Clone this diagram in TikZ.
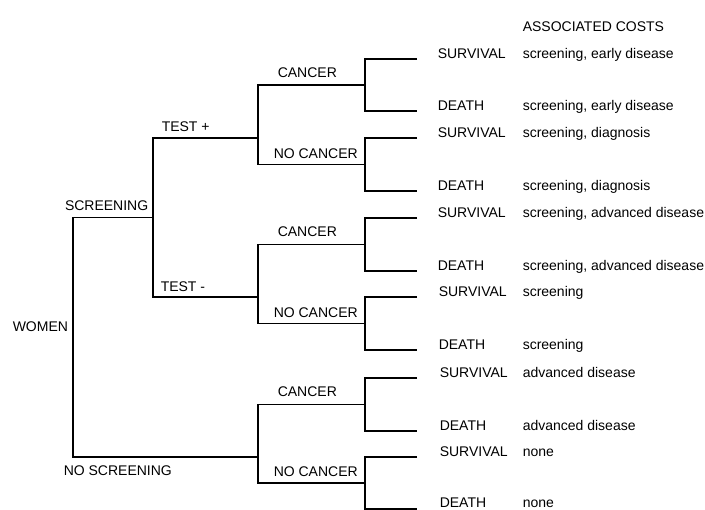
\documentclass[tikz,border=0pt]{standalone}
\usepackage{fontspec}
\setmainfont{Liberation Sans}
\begin{document}
\begin{tikzpicture}[x=1pt,y=-1pt,line width=1.5pt,font=\fontsize{14}{16}\selectfont,
		lbl/.style={anchor=base west,inner sep=0pt}]
		\useasboundingbox (0,0) rectangle (705,510);
		% forks
		\coordinate (w) at (73,0);
		\coordinate (scr) at (153,217.5);
		\coordinate (noscr) at (258,457);
		\coordinate (tp) at (258,138);
		\coordinate (tm) at (258,297);
		\coordinate (c1) at (365,85);
		\coordinate (c2) at (365,164.5);
		\coordinate (c3) at (365,244.5);
		\coordinate (c4) at (365,323.5);
		\coordinate (c5) at (365,404.5);
		\coordinate (c6) at (365,483);
		% outcome line ends
		\coordinate (s1) at (417,59);  \coordinate (d1) at (417,111);
		\coordinate (s2) at (417,138); \coordinate (d2) at (417,191);
		\coordinate (s3) at (417,218); \coordinate (d3) at (417,271);
		\coordinate (s4) at (417,297); \coordinate (d4) at (417,350);
		\coordinate (s5) at (417,378); \coordinate (d5) at (417,431);
		\coordinate (s6) at (417,457); \coordinate (d6) at (417,509);
		% branches
		\draw (scr) -- (scr -| w) -- (noscr -| w) -- (noscr);
		\draw (tp) -| (scr) |- (tm);
		\draw (c1) -| (tp) |- (c2);
		\draw (c3) -| (tm) |- (c4);
		\draw (c5) -| (noscr) |- (c6);
		\draw (s1) -| (c1) |- (d1);
		\draw (s2) -| (c2) |- (d2);
		\draw (s3) -| (c3) |- (d3);
		\draw (s4) -| (c4) |- (d4);
		\draw (s5) -| (c5) |- (d5);
		\draw (s6) -| (c6) |- (d6);
		% branch labels
		\node[lbl] (women) at (12,332) {WOMEN};
		\node[lbl,anchor=base east] (screening) at (149,211) {SCREENING};
		\node[lbl] (noscreening) at (63,476) {NO SCREENING};
		\node[lbl] (testp) at (161,132) {TEST +};
		\node[lbl] (testm) at (160,292) {TEST -};
		\node[lbl] (cancer1) at (277,77.5) {CANCER};
		\node[lbl] (nocancer1) at (273,158.5) {NO CANCER};
		\node[lbl] (cancer2) at (277,237) {CANCER};
		\node[lbl] (nocancer2) at (273,317.5) {NO CANCER};
		\node[lbl] (cancer3) at (277,397) {CANCER};
		\node[lbl] (nocancer3) at (273,477) {NO CANCER};
		% outcomes and costs
		\node[lbl] (costs) at (522,32) {ASSOCIATED COSTS};
		\node[lbl] (surv1) at (437,59) {SURVIVAL};
		\node[lbl] (death1) at (437,111) {DEATH};
		\node[lbl] (surv2) at (437,138) {SURVIVAL};
		\node[lbl] (death2) at (437,191) {DEATH};
		\node[lbl] (surv3) at (437,218) {SURVIVAL};
		\node[lbl] (death3) at (437,271) {DEATH};
		\node[lbl] (surv4) at (438,297) {SURVIVAL};
		\node[lbl] (death4) at (438,350) {DEATH};
		\node[lbl] (surv5) at (439,378) {SURVIVAL};
		\node[lbl] (death5) at (439,431) {DEATH};
		\node[lbl] (surv6) at (439,457) {SURVIVAL};
		\node[lbl] (death6) at (439,508) {DEATH};
		\node[lbl] (cs1) at (522,59) {screening, early disease};
		\node[lbl] (cd1) at (522,111) {screening, early disease};
		\node[lbl] (cs2) at (522,138) {screening, diagnosis};
		\node[lbl] (cd2) at (522,191) {screening, diagnosis};
		\node[lbl] (cs3) at (522,218) {screening, advanced disease};
		\node[lbl] (cd3) at (522,271) {screening, advanced disease};
		\node[lbl] (cs4) at (522,297) {screening};
		\node[lbl] (cd4) at (522,350) {screening};
		\node[lbl] (cs5) at (522,378) {advanced disease};
		\node[lbl] (cd5) at (522,431) {advanced disease};
		\node[lbl] (cs6) at (522,457) {none};
		\node[lbl] (cd6) at (522,508) {none};
		\end{tikzpicture}
\end{document}
